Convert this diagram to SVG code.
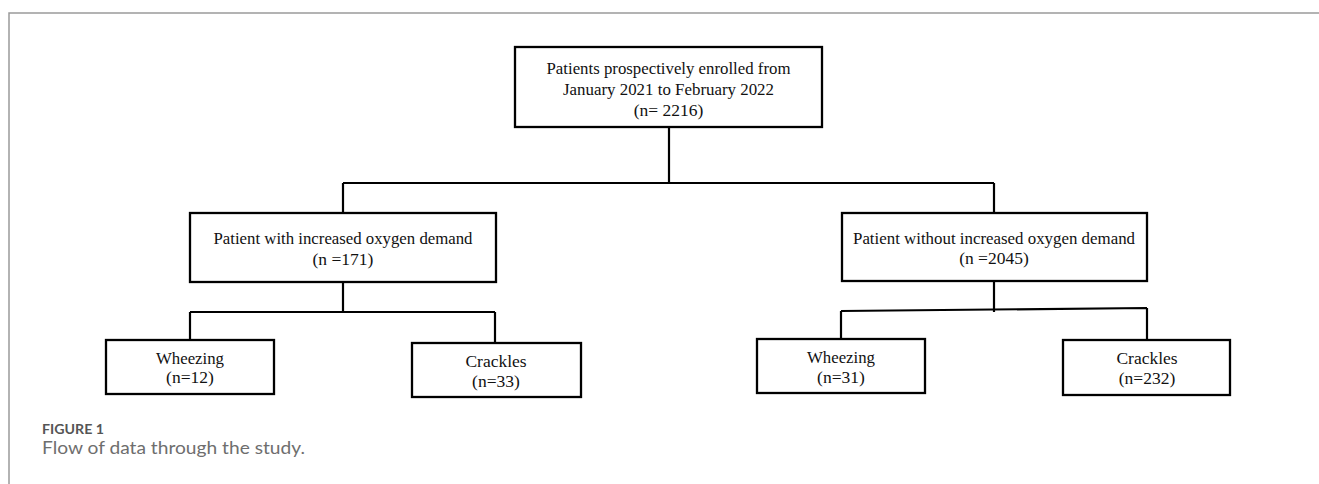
<svg xmlns="http://www.w3.org/2000/svg" width="1319" height="484" viewBox="0 0 1319 484">
<style>
.box{fill:#fff;stroke:#000;stroke-width:2.3}
.con{fill:none;stroke:#000;stroke-width:2.2}
.t{font-family:"Liberation Serif","Times New Roman",serif;font-size:17.5px;fill:#111;text-anchor:middle}
.cap1{font-family:Lato,"Open Sans",sans-serif;font-size:14px;font-weight:bold;fill:#555}
.cap2{font-family:Lato,"Open Sans",sans-serif;font-size:17px;fill:#6e6e6e}
</style>
<rect width="1319" height="484" fill="#fff"/>
<path d="M9 484 V13 H1319" fill="none" stroke="#9a9a9a" stroke-width="1.5"/>
<g id="connectors">
<path class="con" d="M669 127 V183 M343 183 H994 M343 183 V213 M994 183 V213"/>
<path class="con" d="M343 282 V312 M190 312 H495 M190 312 V340 M495 312 V343"/>
<path class="con" d="M994 281 V312 M841 311 L1147 308 M841 311 V339 M1147 308 V340"/>
</g>
<g id="n-enrolled">
<rect class="box" x="515" y="47" width="307" height="80"/>
<text class="t" x="668.5" y="74" textLength="244" lengthAdjust="spacingAndGlyphs">Patients prospectively enrolled from</text>
<text class="t" x="668.5" y="95" textLength="211" lengthAdjust="spacingAndGlyphs">January 2021 to February 2022</text>
<text class="t" x="668.5" y="116">(n= 2216)</text>
</g>
<g id="n-with">
<rect class="box" x="190" y="213" width="306" height="69"/>
<text class="t" x="343" y="244" textLength="259" lengthAdjust="spacingAndGlyphs">Patient with increased oxygen demand</text>
<text class="t" x="343" y="265">(n =171)</text>
</g>
<g id="n-without">
<rect class="box" x="842" y="213" width="305" height="68"/>
<text class="t" x="994" y="244" textLength="282" lengthAdjust="spacingAndGlyphs">Patient without increased oxygen demand</text>
<text class="t" x="994" y="264">(n =2045)</text>
</g>
<g id="n-with-wheezing">
<rect class="box" x="106" y="340" width="168" height="54"/>
<text class="t" x="190" y="364" textLength="68" lengthAdjust="spacingAndGlyphs">Wheezing</text>
<text class="t" x="190" y="383">(n=12)</text>
</g>
<g id="n-with-crackles">
<rect class="box" x="412" y="343" width="169" height="54"/>
<text class="t" x="496" y="367">Crackles</text>
<text class="t" x="496" y="387">(n=33)</text>
</g>
<g id="n-without-wheezing">
<rect class="box" x="757" y="339" width="168" height="54"/>
<text class="t" x="841" y="363" textLength="68" lengthAdjust="spacingAndGlyphs">Wheezing</text>
<text class="t" x="841" y="383">(n=31)</text>
</g>
<g id="n-without-crackles">
<rect class="box" x="1063" y="340" width="167" height="55"/>
<text class="t" x="1147" y="364">Crackles</text>
<text class="t" x="1147" y="384">(n=232)</text>
</g>
<g id="caption">
<text class="cap1" x="42" y="434" textLength="62" lengthAdjust="spacingAndGlyphs">FIGURE 1</text>
<text class="cap2" x="42" y="454" textLength="263" lengthAdjust="spacingAndGlyphs">Flow of data through the study.</text>
</g>
</svg>
